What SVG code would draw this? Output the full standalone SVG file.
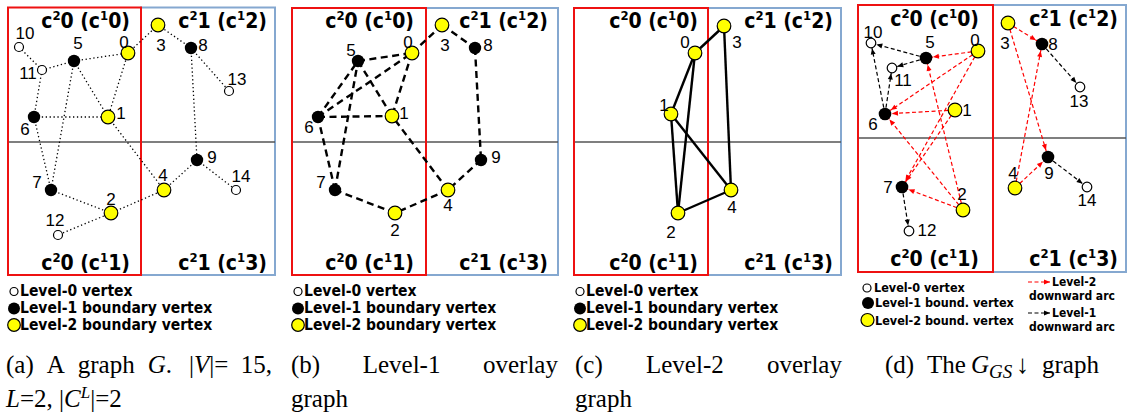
<svg xmlns="http://www.w3.org/2000/svg" width="1128" height="416" viewBox="0 0 1128 416">
<style>
.rr{fill:none;stroke:#ee1111;stroke-width:2}
.br{fill:none;stroke:#85a8d0;stroke-width:2}
.hl{stroke:#555;stroke-width:1.6}
.cl{font-family:"DejaVu Sans Condensed","DejaVu Sans",sans-serif;font-weight:bold;font-size:21px;fill:#000;text-anchor:end}
.sup{font-size:13px}
.nl{font-family:"Liberation Sans",Arial,sans-serif;font-size:17px;text-anchor:middle;fill:#000}
.y{fill:#ffff00;stroke:#000;stroke-width:1.2}
.b{fill:#000}
.w{fill:#fff;stroke:#000;stroke-width:1.2}
.dot{stroke:#000;stroke-width:1.3;stroke-dasharray:1.3 2.6;fill:none}
.dash{stroke:#000;stroke-width:2.4;stroke-dasharray:7 4.5;fill:none}
.sol{stroke:#000;stroke-width:2.4;fill:none}
.ar{stroke:#ff0000;stroke-width:1.2;stroke-dasharray:4 2.5;fill:none}
.ak{stroke:#000;stroke-width:1.2;stroke-dasharray:4 2.5;fill:none}
.lg{font-family:"DejaVu Sans Condensed","DejaVu Sans",sans-serif;font-weight:bold;font-size:15.5px}
.lgs{font-family:"DejaVu Sans Condensed","DejaVu Sans",sans-serif;font-weight:bold;font-size:12.5px}
.lgt{font-family:"DejaVu Sans Condensed","DejaVu Sans",sans-serif;font-weight:bold;font-size:12px}
.cap{font-family:"Liberation Serif","Times New Roman",serif;font-size:25px}
.it{font-style:italic}
</style>
<defs>
<marker id="mR" markerUnits="userSpaceOnUse" markerWidth="8" markerHeight="6" refX="13" refY="2.5" orient="auto" overflow="visible"><path d="M0,0 L6,2.5 L0,5 z" fill="#ff0000"/></marker>
<marker id="mK" markerUnits="userSpaceOnUse" markerWidth="8" markerHeight="6" refX="11.5" refY="2.5" orient="auto" overflow="visible"><path d="M0,0 L6,2.5 L0,5 z" fill="#000"/></marker>
<marker id="mR0" markerUnits="userSpaceOnUse" markerWidth="8" markerHeight="6" refX="6" refY="2.5" orient="auto" overflow="visible"><path d="M0,0 L6,2.5 L0,5 z" fill="#ff0000"/></marker>
<marker id="mK0" markerUnits="userSpaceOnUse" markerWidth="8" markerHeight="6" refX="6" refY="2.5" orient="auto" overflow="visible"><path d="M0,0 L6,2.5 L0,5 z" fill="#000"/></marker>
</defs>
<rect width="1128" height="416" fill="#fff"/>

<!-- ===== Panel (a) ===== -->
<g id="panel-a">
<rect class="br" x="141" y="7.5" width="134" height="267.5"/>
<line class="hl" x1="8" y1="142" x2="275" y2="142"/>
<rect class="rr" x="8" y="7.5" width="133" height="267.5"/>
<text class="cl" x="130" y="28">c<tspan class="sup" dy="-8">2</tspan><tspan dy="8">0 (c</tspan><tspan class="sup" dy="-8">1</tspan><tspan dy="8">0)</tspan></text>
<text class="cl" x="267" y="28">c<tspan class="sup" dy="-8">2</tspan><tspan dy="8">1 (c</tspan><tspan class="sup" dy="-8">1</tspan><tspan dy="8">2)</tspan></text>
<text class="cl" x="130" y="270">c<tspan class="sup" dy="-8">2</tspan><tspan dy="8">0 (c</tspan><tspan class="sup" dy="-8">1</tspan><tspan dy="8">1)</tspan></text>
<text class="cl" x="267" y="270">c<tspan class="sup" dy="-8">2</tspan><tspan dy="8">1 (c</tspan><tspan class="sup" dy="-8">1</tspan><tspan dy="8">3)</tspan></text>
</g>
<g id="edges-a" class="dot">
<line x1="19" y1="47" x2="42" y2="70"/>
<line x1="42" y1="70" x2="74" y2="61"/>
<line x1="74" y1="61" x2="128" y2="53"/>
<line x1="128" y1="53" x2="158" y2="25"/>
<line x1="158" y1="25" x2="191" y2="48"/>
<line x1="191" y1="48" x2="229" y2="91"/>
<line x1="191" y1="48" x2="197" y2="160"/>
<line x1="197" y1="160" x2="236" y2="190"/>
<line x1="197" y1="160" x2="164" y2="190"/>
<line x1="164" y1="190" x2="111" y2="213"/>
<line x1="164" y1="190" x2="108" y2="117"/>
<line x1="128" y1="53" x2="108" y2="117"/>
<line x1="74" y1="61" x2="108" y2="117"/>
<line x1="34" y1="117" x2="108" y2="117"/>
<line x1="42" y1="70" x2="34" y2="117"/>
<line x1="34" y1="117" x2="51" y2="190"/>
<line x1="74" y1="61" x2="51" y2="190"/>
<line x1="51" y1="190" x2="111" y2="213"/>
<line x1="111" y1="213" x2="58" y2="235"/>
</g>
<g id="a-n0"><circle class="y" cx="128" cy="53" r="6.8"/><text class="nl" x="124" y="48">0</text></g>
<g id="a-n1"><circle class="y" cx="108" cy="117" r="6.8"/><text class="nl" x="121" y="119">1</text></g>
<g id="a-n2"><circle class="y" cx="111" cy="213" r="6.8"/><text class="nl" x="111" y="205">2</text></g>
<g id="a-n3"><circle class="y" cx="158" cy="25" r="6.8"/><text class="nl" x="161" y="51">3</text></g>
<g id="a-n4"><circle class="y" cx="164" cy="190" r="6.8"/><text class="nl" x="163" y="181">4</text></g>
<g id="a-n5"><circle class="b" cx="74" cy="61" r="6.2"/><text class="nl" x="78" y="49">5</text></g>
<g id="a-n6"><circle class="b" cx="34" cy="117" r="6.2"/><text class="nl" x="25" y="135">6</text></g>
<g id="a-n7"><circle class="b" cx="51" cy="190" r="6.2"/><text class="nl" x="37" y="188">7</text></g>
<g id="a-n8"><circle class="b" cx="191" cy="48" r="6.2"/><text class="nl" x="203" y="51">8</text></g>
<g id="a-n9"><circle class="b" cx="197" cy="160" r="6.2"/><text class="nl" x="212" y="163">9</text></g>
<g id="a-n10"><circle class="w" cx="19" cy="47" r="4.5"/><text class="nl" x="25" y="39">10</text></g>
<g id="a-n11"><circle class="w" cx="42" cy="70" r="4.5"/><text class="nl" x="28" y="79">11</text></g>
<g id="a-n12"><circle class="w" cx="58" cy="235" r="4.5"/><text class="nl" x="55" y="226">12</text></g>
<g id="a-n13"><circle class="w" cx="229" cy="91" r="4.5"/><text class="nl" x="237" y="85">13</text></g>
<g id="a-n14"><circle class="w" cx="236" cy="190" r="4.5"/><text class="nl" x="241" y="182">14</text></g>
<g id="legend-a">
<circle class="w" cx="14" cy="291.5" r="4"/><text class="lg" x="20" y="296">Level-0 vertex</text>
<circle class="b" cx="14" cy="308.5" r="6"/><text class="lg" x="20" y="313">Level-1 boundary vertex</text>
<circle class="y" cx="14" cy="325" r="6.3"/><text class="lg" x="20" y="330">Level-2 boundary vertex</text>
</g>
<g id="caption-a" class="cap">
<text y="373"><tspan x="6">(a)</tspan><tspan x="46.7">A</tspan><tspan x="77.8">graph</tspan><tspan x="147.7" class="it">G</tspan>.<tspan x="189">|</tspan><tspan class="it">V</tspan>|=<tspan x="240.8">15,</tspan></text>
<text y="407" x="6"><tspan class="it">L</tspan>=2, |<tspan class="it">C</tspan><tspan class="it" font-size="17" dy="-9">L</tspan><tspan dy="9">|=2</tspan></text>
</g>

<!-- ===== Panel (b) ===== -->
<g id="panel-b">
<rect class="br" x="426" y="8" width="132" height="267"/>
<line class="hl" x1="292" y1="142" x2="558" y2="142"/>
<rect class="rr" x="292" y="8" width="134" height="267"/>
<text class="cl" x="414" y="28">c<tspan class="sup" dy="-8">2</tspan><tspan dy="8">0 (c</tspan><tspan class="sup" dy="-8">1</tspan><tspan dy="8">0)</tspan></text>
<text class="cl" x="548" y="28">c<tspan class="sup" dy="-8">2</tspan><tspan dy="8">1 (c</tspan><tspan class="sup" dy="-8">1</tspan><tspan dy="8">2)</tspan></text>
<text class="cl" x="414" y="270">c<tspan class="sup" dy="-8">2</tspan><tspan dy="8">0 (c</tspan><tspan class="sup" dy="-8">1</tspan><tspan dy="8">1)</tspan></text>
<text class="cl" x="548" y="270">c<tspan class="sup" dy="-8">2</tspan><tspan dy="8">1 (c</tspan><tspan class="sup" dy="-8">1</tspan><tspan dy="8">3)</tspan></text>
</g>
<g id="edges-b" class="dash">
<line x1="412" y1="53" x2="442" y2="25"/>
<line x1="442" y1="25" x2="475" y2="48"/>
<line x1="475" y1="48" x2="481" y2="160"/>
<line x1="481" y1="160" x2="448" y2="190"/>
<line x1="448" y1="190" x2="395" y2="213"/>
<line x1="448" y1="190" x2="392" y2="116"/>
<line x1="395" y1="213" x2="335" y2="190"/>
<line x1="335" y1="190" x2="318" y2="117"/>
<line x1="335" y1="190" x2="358" y2="61"/>
<line x1="318" y1="117" x2="358" y2="61"/>
<line x1="318" y1="117" x2="412" y2="53"/>
<line x1="318" y1="117" x2="392" y2="116"/>
<line x1="358" y1="61" x2="412" y2="53"/>
<line x1="358" y1="61" x2="392" y2="116"/>
<line x1="412" y1="53" x2="392" y2="116"/>
</g>
<g id="b-n0"><circle class="y" cx="412" cy="53" r="6.8"/><text class="nl" x="408" y="48">0</text></g>
<g id="b-n1"><circle class="y" cx="392" cy="116" r="6.8"/><text class="nl" x="404" y="119">1</text></g>
<g id="b-n2"><circle class="y" cx="395" cy="213" r="6.8"/><text class="nl" x="395" y="236">2</text></g>
<g id="b-n3"><circle class="y" cx="442" cy="25" r="6.8"/><text class="nl" x="445" y="51">3</text></g>
<g id="b-n4"><circle class="y" cx="448" cy="190" r="6.8"/><text class="nl" x="448" y="211">4</text></g>
<g id="b-n5"><circle class="b" cx="358" cy="61" r="6.2"/><text class="nl" x="351" y="56">5</text></g>
<g id="b-n6"><circle class="b" cx="318" cy="117" r="6.2"/><text class="nl" x="309" y="133">6</text></g>
<g id="b-n7"><circle class="b" cx="335" cy="190" r="6.2"/><text class="nl" x="321" y="188">7</text></g>
<g id="b-n8"><circle class="b" cx="475" cy="48" r="6.2"/><text class="nl" x="488" y="51">8</text></g>
<g id="b-n9"><circle class="b" cx="481" cy="160" r="6.2"/><text class="nl" x="496" y="163">9</text></g>
<g id="legend-b">
<circle class="w" cx="298" cy="291.5" r="4"/><text class="lg" x="304" y="296">Level-0 vertex</text>
<circle class="b" cx="298" cy="308.5" r="6"/><text class="lg" x="304" y="313">Level-1 boundary vertex</text>
<circle class="y" cx="298" cy="325" r="6.3"/><text class="lg" x="304" y="330">Level-2 boundary vertex</text>
</g>
<g id="caption-b" class="cap">
<text y="373"><tspan x="291">(b)</tspan><tspan x="362.7">Level-1</tspan><tspan x="483">overlay</tspan></text>
<text y="407" x="291">graph</text>
</g>

<!-- ===== Panel (c) ===== -->
<g id="panel-c">
<rect class="br" x="708" y="8" width="133" height="267"/>
<line class="hl" x1="574" y1="142" x2="841" y2="142"/>
<rect class="rr" x="574" y="8" width="134" height="267"/>
<text class="cl" x="698" y="28">c<tspan class="sup" dy="-8">2</tspan><tspan dy="8">0 (c</tspan><tspan class="sup" dy="-8">1</tspan><tspan dy="8">0)</tspan></text>
<text class="cl" x="833" y="28">c<tspan class="sup" dy="-8">2</tspan><tspan dy="8">1 (c</tspan><tspan class="sup" dy="-8">1</tspan><tspan dy="8">2)</tspan></text>
<text class="cl" x="698" y="270">c<tspan class="sup" dy="-8">2</tspan><tspan dy="8">0 (c</tspan><tspan class="sup" dy="-8">1</tspan><tspan dy="8">1)</tspan></text>
<text class="cl" x="833" y="270">c<tspan class="sup" dy="-8">2</tspan><tspan dy="8">1 (c</tspan><tspan class="sup" dy="-8">1</tspan><tspan dy="8">3)</tspan></text>
</g>
<g id="edges-c" class="sol">
<line x1="695" y1="53" x2="724" y2="26"/>
<line x1="695" y1="53" x2="671" y2="114"/>
<line x1="695" y1="53" x2="678" y2="213"/>
<line x1="671" y1="114" x2="678" y2="213"/>
<line x1="671" y1="114" x2="731" y2="190"/>
<line x1="678" y1="213" x2="731" y2="190"/>
<line x1="724" y1="26" x2="731" y2="190"/>
</g>
<g id="c-n0"><circle class="y" cx="695" cy="53" r="6.8"/><text class="nl" x="685" y="48">0</text></g>
<g id="c-n1"><circle class="y" cx="671" cy="114" r="6.8"/><text class="nl" x="664" y="111">1</text></g>
<g id="c-n2"><circle class="y" cx="678" cy="213" r="6.8"/><text class="nl" x="671" y="238">2</text></g>
<g id="c-n3"><circle class="y" cx="724" cy="26" r="6.8"/><text class="nl" x="737" y="48">3</text></g>
<g id="c-n4"><circle class="y" cx="731" cy="190" r="6.8"/><text class="nl" x="732" y="213">4</text></g>
<g id="legend-c">
<circle class="w" cx="580" cy="291.5" r="4"/><text class="lg" x="586" y="296">Level-0 vertex</text>
<circle class="b" cx="580" cy="308.5" r="6"/><text class="lg" x="586" y="313">Level-1 boundary vertex</text>
<circle class="y" cx="580" cy="325" r="6.3"/><text class="lg" x="586" y="330">Level-2 boundary vertex</text>
</g>
<g id="caption-c" class="cap">
<text y="373"><tspan x="575">(c)</tspan><tspan x="646">Level-2</tspan><tspan x="767">overlay</tspan></text>
<text y="407" x="575">graph</text>
</g>

<!-- ===== Panel (d) ===== -->
<g id="panel-d">
<rect class="br" x="993" y="5" width="133" height="267"/>
<line class="hl" x1="858" y1="138" x2="1126" y2="138"/>
<rect class="rr" x="858" y="5" width="135" height="267"/>
<text class="cl" x="979" y="26">c<tspan class="sup" dy="-8">2</tspan><tspan dy="8">0 (c</tspan><tspan class="sup" dy="-8">1</tspan><tspan dy="8">0)</tspan></text>
<text class="cl" x="1118" y="26">c<tspan class="sup" dy="-8">2</tspan><tspan dy="8">1 (c</tspan><tspan class="sup" dy="-8">1</tspan><tspan dy="8">2)</tspan></text>
<text class="cl" x="979" y="266">c<tspan class="sup" dy="-8">2</tspan><tspan dy="8">0 (c</tspan><tspan class="sup" dy="-8">1</tspan><tspan dy="8">1)</tspan></text>
<text class="cl" x="1118" y="266">c<tspan class="sup" dy="-8">2</tspan><tspan dy="8">1 (c</tspan><tspan class="sup" dy="-8">1</tspan><tspan dy="8">3)</tspan></text>
</g>
<g id="edges-d">
<g class="ar" marker-end="url(#mR)">
<line x1="978" y1="51" x2="926" y2="58"/>
<line x1="978" y1="51" x2="885" y2="114"/>
<line x1="978" y1="51" x2="902" y2="187"/>
<line x1="955" y1="110" x2="885" y2="114"/>
<line x1="955" y1="110" x2="902" y2="187"/>
<line x1="963" y1="210" x2="926" y2="58"/>
<line x1="963" y1="210" x2="885" y2="114"/>
<line x1="963" y1="210" x2="902" y2="187"/>
<line x1="1008" y1="23" x2="1042" y2="44"/>
<line x1="1008" y1="23" x2="1048" y2="157"/>
<line x1="1015" y1="188" x2="1042" y2="44"/>
<line x1="1015" y1="188" x2="1048" y2="157"/>
</g>
<g class="ak" marker-end="url(#mK)">
<line x1="926" y1="58" x2="871" y2="43"/>
<line x1="926" y1="58" x2="892" y2="68"/>
<line x1="885" y1="114" x2="871" y2="43"/>
<line x1="885" y1="114" x2="892" y2="68"/>
<line x1="902" y1="187" x2="909" y2="231"/>
<line x1="1042" y1="44" x2="1080" y2="87"/>
<line x1="1048" y1="157" x2="1087" y2="187"/>
</g>
</g>
<g id="d-n0"><circle class="y" cx="978" cy="51" r="6.8"/><text class="nl" x="975" y="46">0</text></g>
<g id="d-n1"><circle class="y" cx="955" cy="110" r="6.8"/><text class="nl" x="967" y="116">1</text></g>
<g id="d-n2"><circle class="y" cx="963" cy="210" r="6.8"/><text class="nl" x="962" y="200">2</text></g>
<g id="d-n3"><circle class="y" cx="1008" cy="23" r="6.8"/><text class="nl" x="1005" y="49">3</text></g>
<g id="d-n4"><circle class="y" cx="1015" cy="188" r="6.8"/><text class="nl" x="1013" y="179">4</text></g>
<g id="d-n5"><circle class="b" cx="926" cy="58" r="6.3"/><text class="nl" x="930" y="48">5</text></g>
<g id="d-n6"><circle class="b" cx="885" cy="114" r="6.3"/><text class="nl" x="873" y="130">6</text></g>
<g id="d-n7"><circle class="b" cx="902" cy="187" r="6.3"/><text class="nl" x="888" y="193">7</text></g>
<g id="d-n8"><circle class="b" cx="1042" cy="44" r="6.3"/><text class="nl" x="1053" y="50">8</text></g>
<g id="d-n9"><circle class="b" cx="1048" cy="157" r="6.3"/><text class="nl" x="1049" y="179">9</text></g>
<g id="d-n10"><circle class="w" cx="871" cy="43" r="4.8"/><text class="nl" x="873" y="38">10</text></g>
<g id="d-n11"><circle class="w" cx="892" cy="68" r="4.8"/><text class="nl" x="903" y="86">11</text></g>
<g id="d-n12"><circle class="w" cx="909" cy="231" r="4.8"/><text class="nl" x="927" y="236">12</text></g>
<g id="d-n13"><circle class="w" cx="1080" cy="87" r="4.8"/><text class="nl" x="1079" y="107">13</text></g>
<g id="d-n14"><circle class="w" cx="1087" cy="187" r="4.8"/><text class="nl" x="1087" y="206">14</text></g>
<g id="legend-d">
<circle class="w" cx="867" cy="288" r="4"/><text class="lgs" x="874" y="292">Level-0 vertex</text>
<circle class="b" cx="868" cy="303" r="6"/><text class="lgs" x="875" y="307">Level-1 bound. vertex</text>
<circle class="y" cx="867.5" cy="320" r="6.5"/><text class="lgs" x="875" y="324.5">Level-2 bound. vertex</text>
<line class="ar" x1="1028" y1="282" x2="1050" y2="282" marker-end="url(#mR0)"/>
<text class="lgt" x="1052" y="285.5">Level-2</text>
<text class="lgt" x="1029" y="299.5">downward arc</text>
<line class="ak" x1="1028" y1="313" x2="1050" y2="313" marker-end="url(#mK0)"/>
<text class="lgt" x="1052" y="316.5">Level-1</text>
<text class="lgt" x="1029" y="330.5">downward arc</text>
</g>
<g id="caption-d" class="cap">
<text y="373"><tspan x="885">(d)</tspan><tspan x="927">The</tspan><tspan x="971" class="it">G</tspan><tspan class="it" font-size="19" dy="5">GS</tspan><tspan x="1016" dy="-5" font-size="26">↓</tspan><tspan x="1042">graph</tspan></text>
</g>
</svg>
